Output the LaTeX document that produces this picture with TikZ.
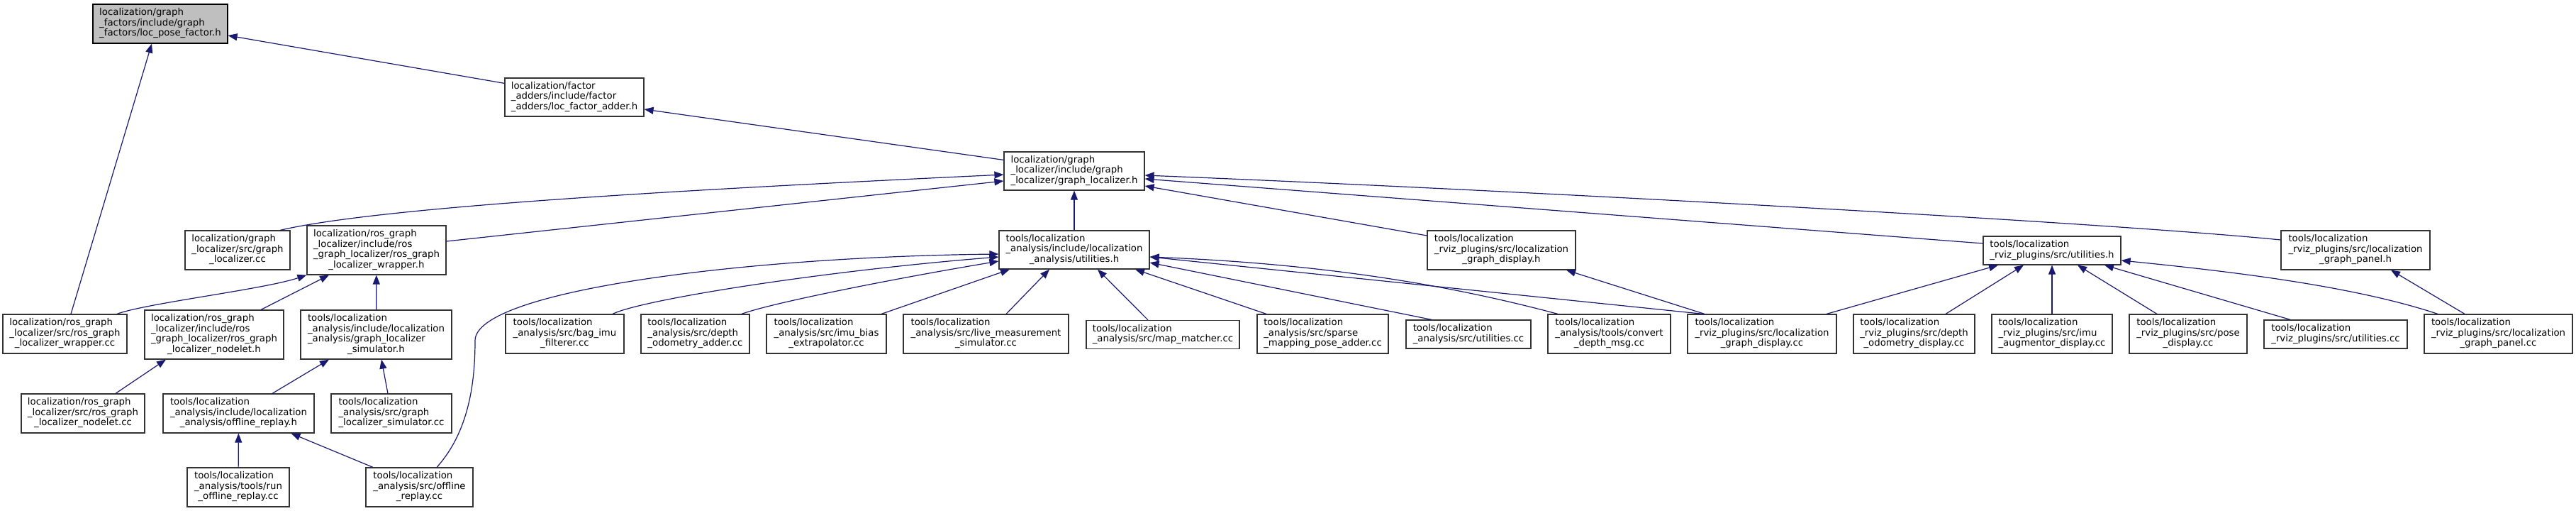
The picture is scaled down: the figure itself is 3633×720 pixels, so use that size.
\documentclass[tikz,border=0pt]{standalone}
\usepackage{fontspec}
\setmainfont{DejaVu Sans}
\usetikzlibrary{arrows.meta}
\definecolor{edgeblue}{HTML}{191970}
\definecolor{mainfill}{HTML}{BFBFBF}
% last line of a file label is centred, the others are flush left
\newcommand{\fl}[2]{\begin{tabular}{@{}l@{}}#1\\\multicolumn{1}{@{}c@{}}{#2}\end{tabular}}

\begin{document}
\begin{tikzpicture}[x=1pt, y=-1pt,
  every node/.style={font=\fontsize{13.3}{14.5}\selectfont},
  file/.style={draw=black!80, line width=1.2pt, fill=white, inner sep=0pt, minimum height=55pt},
  dep/.style={edgeblue, line width=1.2pt, -{Triangle[length=13pt, width=10pt]}}]
  \useasboundingbox (0,0) rectangle (3633,720);

  % headers
  \node[file, fill=mainfill, draw=black, minimum width=190pt] (pf) at (226,33.5) {\fl{localization/graph\\\_factors/include/graph}{\_factors/loc\_pose\_factor.h}};
  \node[file, minimum width=196pt, minimum height=54pt] (fa) at (810,137) {\fl{localization/factor\\\_adders/include/factor}{\_adders/loc\_factor\_adder.h}};
  \node[file, minimum width=198pt, minimum height=54pt] (gl) at (1515,241) {\fl{localization/graph\\\_localizer/include/graph}{\_localizer/graph\_localizer.h}};
  \node[file, minimum width=148pt] (glcc) at (335,352.5) {\fl{localization/graph\\\_localizer/src/graph}{\_localizer.cc}};
  \node[file, minimum width=196pt, minimum height=69pt] (rw) at (531,352.5) {\fl{localization/ros\_graph\\\_localizer/include/ros\\\_graph\_localizer/ros\_graph}{\_localizer\_wrapper.h}};
  \node[file, minimum width=212pt, minimum height=54pt] (au) at (1515,352) {\fl{tools/localization\\\_analysis/include/localization}{\_analysis/utilities.h}};
  \node[file, minimum width=209pt] (gdh) at (2117.5,352.5) {\fl{tools/localization\\\_rviz\_plugins/src/localization}{\_graph\_display.h}};
  \node[file, minimum width=194pt, minimum height=40pt] (ru) at (2894,353) {\fl{tools/localization}{\_rviz\_plugins/src/utilities.h}};
  \node[file, minimum width=210pt] (gph) at (3322,352.5) {\fl{tools/localization\\\_rviz\_plugins/src/localization}{\_graph\_panel.h}};
  \node[file, minimum width=175pt] (rwcc) at (91.5,470.5) {\fl{localization/ros\_graph\\\_localizer/src/ros\_graph}{\_localizer\_wrapper.cc}};
  \node[file, minimum width=196pt, minimum height=69pt] (nlh) at (302,471.5) {\fl{localization/ros\_graph\\\_localizer/include/ros\\\_graph\_localizer/ros\_graph}{\_localizer\_nodelet.h}};
  \node[file, minimum width=213pt, minimum height=69pt] (simh) at (530.5,471.5) {\fl{tools/localization\\\_analysis/include/localization\\\_analysis/graph\_localizer}{\_simulator.h}};

  % sources in the middle row
  \node[file, minimum width=167pt] (bag) at (796.5,470.5) {\fl{tools/localization\\\_analysis/src/bag\_imu}{\_filterer.cc}};
  \node[file, minimum width=153pt] (dep) at (980.5,470.5) {\fl{tools/localization\\\_analysis/src/depth}{\_odometry\_adder.cc}};
  \node[file, minimum width=169pt] (imu) at (1165.5,470.5) {\fl{tools/localization\\\_analysis/src/imu\_bias}{\_extrapolator.cc}};
  \node[file, minimum width=233pt] (live) at (1390.5,470.5) {\fl{tools/localization\\\_analysis/src/live\_measurement}{\_simulator.cc}};
  \node[file, minimum width=216pt, minimum height=40pt] (mm) at (1640,471.5) {\fl{tools/localization}{\_analysis/src/map\_matcher.cc}};
  \node[file, minimum width=185pt] (sp) at (1865.5,470.5) {\fl{tools/localization\\\_analysis/src/sparse}{\_mapping\_pose\_adder.cc}};
  \node[file, minimum width=176pt, minimum height=40pt] (ucc) at (2071,471) {\fl{tools/localization}{\_analysis/src/utilities.cc}};
  \node[file, minimum width=173pt] (cdm) at (2269.5,470.5) {\fl{tools/localization\\\_analysis/tools/convert}{\_depth\_msg.cc}};
  \node[file, minimum width=210pt] (gdcc) at (2485,470.5) {\fl{tools/localization\\\_rviz\_plugins/src/localization}{\_graph\_display.cc}};
  \node[file, minimum width=171pt] (dod) at (2699.5,470.5) {\fl{tools/localization\\\_rviz\_plugins/src/depth}{\_odometry\_display.cc}};
  \node[file, minimum width=170pt] (iad) at (2894,470.5) {\fl{tools/localization\\\_rviz\_plugins/src/imu}{\_augmentor\_display.cc}};
  \node[file, minimum width=166pt] (pd) at (3086,470.5) {\fl{tools/localization\\\_rviz\_plugins/src/pose}{\_display.cc}};
  \node[file, minimum width=202pt, minimum height=40pt] (rucc) at (3294,471) {\fl{tools/localization}{\_rviz\_plugins/src/utilities.cc}};
  \node[file, minimum width=209pt] (gpcc) at (3523.5,470.5) {\fl{tools/localization\\\_rviz\_plugins/src/localization}{\_graph\_panel.cc}};

  % lower rows
  \node[file, minimum width=174pt] (nlcc) at (117,582.5) {\fl{localization/ros\_graph\\\_localizer/src/ros\_graph}{\_localizer\_nodelet.cc}};
  \node[file, minimum width=213pt] (orh) at (336.5,582.5) {\fl{tools/localization\\\_analysis/include/localization}{\_analysis/offline\_replay.h}};
  \node[file, minimum width=170pt] (simcc) at (552,582.5) {\fl{tools/localization\\\_analysis/src/graph}{\_localizer\_simulator.cc}};
  \node[file, minimum width=144pt] (rorcc) at (336,686.5) {\fl{tools/localization\\\_analysis/tools/run}{\_offline\_replay.cc}};
  \node[file, minimum width=151pt] (orcc) at (591.5,686.5) {\fl{tools/localization\\\_analysis/src/offline}{\_replay.cc}};
  \coordinate (orbend) at (670,480);

  % includes (arrow points at the included file)
  \draw[dep] ([yshift=-8pt]fa.north west) -- ([yshift=-16.5pt]pf.east);
  \draw[dep] ([xshift=8.5pt]rwcc.north) -- ([xshift=-12pt]pf.south);
  \draw[dep] ([yshift=-12pt]gl.north west) -- ([yshift=-17pt]fa.east);
  \draw[dep] ([xshift=60pt]glcc.north) .. controls +(150,-35) and +(-400,19) .. ([yshift=-5pt]gl.west);
  \draw[dep] ([yshift=12.5pt]rw.east) -- ([yshift=-14pt]gl.west);
  \draw[dep] (au) -- (gl);
  \draw[dep] ([yshift=20.5pt]gdh.west) -- ([yshift=-21pt]gl.east);
  \draw[dep] ([yshift=10pt]ru.west) -- ([yshift=-11pt]gl.east);
  \draw[dep] ([yshift=14.5pt]gph.west) .. controls +(-250,-25) and +(500,20) .. ([yshift=-6pt]gl.east);

  \draw[dep] ([xshift=73.5pt]rwcc.north) .. controls +(40,-15) and +(-60,20) .. (rw.south west);
  \draw[dep] ([xshift=66pt]nlh.north) -- ([xshift=-67pt]rw.south);
  \draw[dep] (simh) -- (rw);
  \draw[dep] ([xshift=46pt]nlcc.north) -- ([xshift=-68pt]nlh.south);
  \draw[dep] ([xshift=47.5pt]orh.north) -- ([xshift=-66.5pt]simh.south);
  \draw[dep] ([xshift=-5pt]simcc.north) -- ([xshift=7.5pt]simh.south);
  \draw[dep] (rorcc) -- (orh);
  \draw[dep] ([xshift=-65.5pt]orcc.north) -- ([xshift=74pt]orh.south);
  \draw[dep] ([xshift=24.5pt]orcc.north) .. controls +(45,-50) and +(0,60) .. (orbend)
    .. controls +(0,-70) and +(-360,4) .. ([yshift=-6pt]au.west);

  \draw[dep] ([xshift=67.5pt]bag.north) .. controls +(40,-20) and +(-250,20) .. ([yshift=-10pt]au.west);
  \draw[dep] ([xshift=65.5pt]dep.north) .. controls +(40,-15) and +(-150,25) .. ([yshift=-16pt]au.west);
  \draw[dep] ([xshift=77.5pt]imu.north) -- ([xshift=-91pt]au.south);
  \draw[dep] ([xshift=28.5pt]live.north) -- ([xshift=-35pt]au.south);
  \draw[dep] ([xshift=-21pt]mm.north) -- ([xshift=33pt]au.south);
  \draw[dep] ([xshift=-79.5pt]sp.north) -- ([xshift=86pt]au.south);
  \draw[dep] ([xshift=-52pt]ucc.north) -- ([yshift=-18pt]au.east);
  \draw[dep] ([xshift=-72.5pt]cdm.north) .. controls +(-150,-40) and +(250,10) .. ([yshift=-10pt]au.east);
  \draw[dep] ([xshift=-83pt]gdcc.north) -- ([yshift=-10pt]au.east);

  \draw[dep] ([xshift=-81pt]gdcc.north) -- ([xshift=91.5pt]gdh.south);
  \draw[dep] ([xshift=91pt]gdcc.north) -- ([xshift=-76pt]ru.south);
  \draw[dep] ([xshift=44.5pt]dod.north) -- ([xshift=-40pt]ru.south);
  \draw[dep] (iad) -- (ru);
  \draw[dep] ([xshift=-44pt]pd.north) -- ([xshift=36pt]ru.south);
  \draw[dep] ([xshift=-64pt]rucc.north) -- ([xshift=74pt]ru.south);
  \draw[dep] ([xshift=-85.5pt]gpcc.north) .. controls +(-120,-40) and +(150,15) .. ([yshift=-14pt]ru.east);
  \draw[dep] ([xshift=-47.5pt]gpcc.north) -- ([xshift=50pt]gph.south);
\end{tikzpicture}
\end{document}
